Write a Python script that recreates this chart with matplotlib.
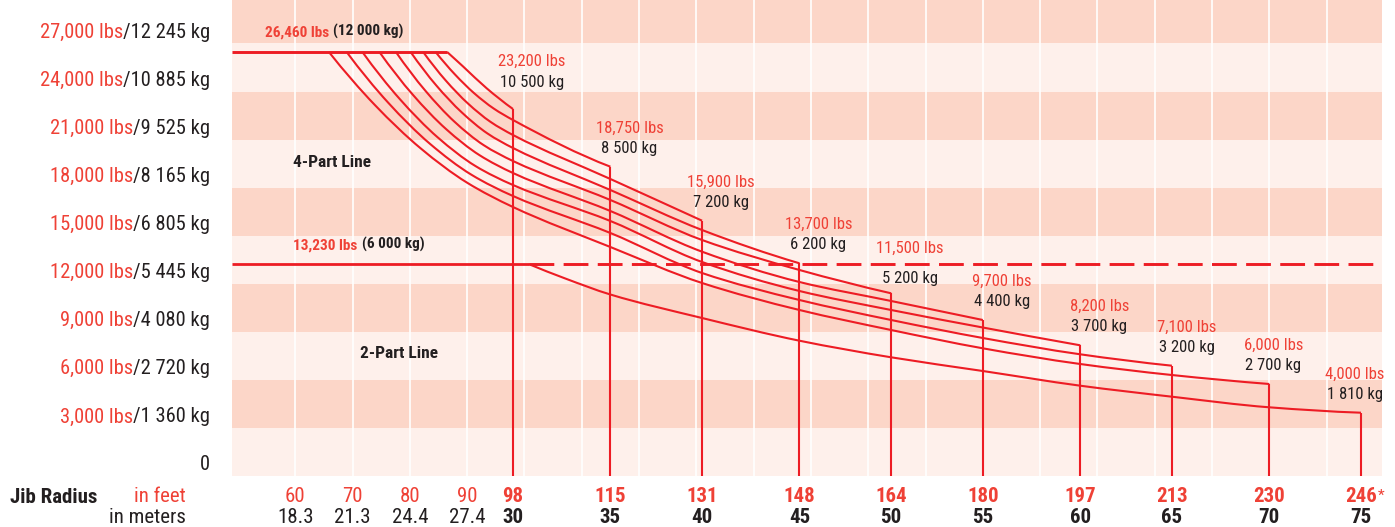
import matplotlib
matplotlib.use("Agg")
import matplotlib.pyplot as plt
from matplotlib import font_manager as fm
from matplotlib.path import Path
from matplotlib.patches import PathPatch
from matplotlib.transforms import blended_transform_factory as blend

# ---------------- data ----------------
radius_ft = [98, 115, 131, 148, 164, 180, 197, 213, 230, 246]
radius_ft_labels = ["98", "115", "131", "148", "164", "180", "197", "213", "230", "246"]
radius_m_labels = ["30", "35", "40", "45", "50", "55", "60", "65", "70", "75"]
minor_ft = [60, 70, 80, 90]
minor_ft_labels = ["60", "70", "80", "90"]
minor_m_labels = ["18.3", "21.3", "24.4", "27.4"]

end_lbs_labels = ["23,200 lbs", "18,750 lbs", "15,900 lbs", "13,700 lbs", "11,500 lbs",
                  "9,700 lbs", "8,200 lbs", "7,100 lbs", "6,000 lbs", "4,000 lbs"]
end_kg_labels = ["10 500 kg", "8 500 kg", "7 200 kg", "6 200 kg", "5 200 kg",
                 "4 400 kg", "3 700 kg", "3 200 kg", "2 700 kg", "1 810 kg"]

ytick_lbs = [0, 3000, 6000, 9000, 12000, 15000, 18000, 21000, 24000, 27000]
ytick_lbs_labels = ["0", "3,000 lbs", "6,000 lbs", "9,000 lbs", "12,000 lbs", "15,000 lbs",
                    "18,000 lbs", "21,000 lbs", "24,000 lbs", "27,000 lbs"]
ytick_kg_labels = ["", "/1 360 kg", "/2 720 kg", "/4 080 kg", "/5 445 kg", "/6 805 kg",
                   "/8 165 kg", "/9 525 kg", "/10 885 kg", "/12 245 kg"]

max_4part_lbs = 26460
max_4part_text = ("26,460 lbs", "(12 000 kg)")
max_2part_lbs = 13230
max_2part_text = ("13,230 lbs", "(6 000 kg)")

# 4-part line curves (jib radius in ft, capacity in lbs)
c98_ft = [86.53, 89.33, 93.41, 98]
c98_lbs = [26460, 25549, 24200, 22908]
c115_ft = [84.51, 87.88, 91.26, 94.63, 98, 115]
c115_lbs = [26460, 25062, 23882, 22939, 22222, 19307]
c131_ft = [82.34, 86.25, 90.18, 94.09, 98, 115, 131]
c131_lbs = [26460, 24693, 23239, 22103, 21285, 18539, 15936]
c148_ft = [80.15, 84.61, 89.08, 93.53, 98, 115, 131, 148]
c148_lbs = [26460, 24381, 22690, 21385, 20474, 17852, 15355, 13277]
c164_ft = [77.58, 82.69, 87.79, 92.90, 98, 115, 131, 148, 164]
c164_lbs = [26460, 24057, 22115, 20649, 19662, 17228, 14731, 12859, 11404]
c180_ft = [74.70, 80.53, 86.35, 92.17, 98, 115, 131, 148, 164, 180]
c180_lbs = [26460, 23795, 21647, 20024, 18913, 16541, 14001, 12109, 10924, 9738]
c197_ft = [71.73, 78.30, 84.87, 91.44, 98, 115, 131, 148, 164, 180, 197]
c197_lbs = [26460, 23507, 21135, 19350, 18164, 15917, 13358, 11548, 10362, 9269, 8158]
c213_ft = [68.98, 76.24, 83.49, 90.74, 98, 115, 131, 148, 164, 180, 197, 213]
c213_lbs = [26460, 23295, 20742, 18807, 17478, 15168, 12671, 10986, 9738, 8614, 7597, 6885]
c230_ft = [65.89, 73.91, 81.94, 89.97, 98, 115, 131, 148, 164, 180, 197, 213, 230]
c230_lbs = [26460, 23152, 20436, 18314, 16791, 14294, 12047, 10362, 9113, 7971, 6991, 6304, 5743]
# 2-part line curve
c246_ft = [100.74, 107.13, 115, 131, 148, 164, 180, 197, 213, 230, 246]
c246_lbs = [13230, 12328, 11329, 9862, 8445, 7409, 6554, 5637, 4950, 4288, 3951]

four_part_curves = [(c98_ft, c98_lbs), (c115_ft, c115_lbs), (c131_ft, c131_lbs),
                    (c148_ft, c148_lbs), (c164_ft, c164_lbs), (c180_ft, c180_lbs),
                    (c197_ft, c197_lbs), (c213_ft, c213_lbs), (c230_ft, c230_lbs)]
all_curves = four_part_curves + [(c246_ft, c246_lbs)]

# ---------------- fonts ----------------
def pick_font():
    entries = fm.fontManager.ttflist
    names = {f.name for f in entries}
    for cand in ["Roboto Condensed", "Open Sans Condensed", "Liberation Sans Narrow",
                 "Noto Sans Condensed"]:
        if cand in names:
            return cand, "normal"
    for fam in ["Roboto", "Open Sans", "Noto Sans", "DejaVu Sans", "Liberation Sans"]:
        for f in entries:
            if f.name == fam and str(f.stretch) in ("condensed", "semi-condensed",
                                                      "extra-condensed"):
                return fam, str(f.stretch)
    return "Liberation Sans", "normal"

FONT, STRETCH = pick_font()
plt.rcParams["font.family"] = [FONT, "DejaVu Sans"]
plt.rcParams["font.stretch"] = STRETCH

LINE = "#ED1C24"
RED_T = "#EF4136"
DARK = "#231F20"
BAND_DARK = "#FCD6C8"
BAND_LIGHT = "#FEF0EB"

W, H = 1395, 527
fig = plt.figure(figsize=(W / 100, H / 100), dpi=100)
ax = fig.add_axes([232 / W, 51 / H, 1150 / W, 476 / H])
ax.set_xlim(48.96, 249.67)
ax.set_ylim(0, 29712)
ax.set_axis_off()


def smooth_path(xs, ys):
    """Monotone cubic (Fritsch-Carlson) Bezier path through the read points."""
    n = len(xs)
    h = [xs[i + 1] - xs[i] for i in range(n - 1)]
    d = [(ys[i + 1] - ys[i]) / h[i] for i in range(n - 1)]
    m = [0.0] * n
    if n == 2:
        m = [d[0], d[0]]
    else:
        for i in range(1, n - 1):
            if d[i - 1] * d[i] <= 0:
                m[i] = 0.0
            else:
                w1 = 2 * h[i] + h[i - 1]
                w2 = h[i] + 2 * h[i - 1]
                m[i] = (w1 + w2) / (w1 / d[i - 1] + w2 / d[i])
        m0 = ((2 * h[0] + h[1]) * d[0] - h[0] * d[1]) / (h[0] + h[1])
        if m0 * d[0] <= 0:
            m0 = 0.0
        elif d[0] * d[1] <= 0 and abs(m0) > abs(3 * d[0]):
            m0 = 3 * d[0]
        m[0] = m0
        mn = ((2 * h[-1] + h[-2]) * d[-1] - h[-1] * d[-2]) / (h[-1] + h[-2])
        if mn * d[-1] <= 0:
            mn = 0.0
        elif d[-1] * d[-2] <= 0 and abs(mn) > abs(3 * d[-1]):
            mn = 3 * d[-1]
        m[-1] = mn
    verts = [(xs[0], ys[0])]
    codes = [Path.MOVETO]
    for i in range(n - 1):
        verts += [(xs[i] + h[i] / 3, ys[i] + m[i] * h[i] / 3),
                  (xs[i + 1] - h[i] / 3, ys[i + 1] - m[i + 1] * h[i] / 3),
                  (xs[i + 1], ys[i + 1])]
        codes += [Path.CURVE4] * 3
    return Path(verts, codes)


# bands
for i in range(10):
    lo = i * 3000
    ax.axhspan(lo, lo + 3000, color=BAND_LIGHT if i % 2 == 0 else BAND_DARK, lw=0, zorder=0)
for x in range(60, 250, 10):
    ax.axvline(x, color="white", lw=1.2, zorder=1)

# lines
ax.plot([ax.get_xlim()[0], c98_ft[0]], [max_4part_lbs] * 2, color=LINE, lw=2.1,
        solid_capstyle="butt", zorder=3)
for fx, fy in all_curves:
    ax.add_patch(PathPatch(smooth_path(fx, fy), fill=False, ec=LINE, lw=1.5,
                           joinstyle="round", zorder=3))
ax.vlines(radius_ft, 0, [c[1][-1] for c in all_curves], color=LINE, lw=1.5, zorder=3)
ax.plot([ax.get_xlim()[0], c246_ft[0]], [max_2part_lbs] * 2, color=LINE, lw=2.0,
        solid_capstyle="butt", zorder=3)
ax.plot([c246_ft[0], ax.get_xlim()[1]], [max_2part_lbs] * 2, color=LINE, lw=2.1,
        dashes=(8.5, 3.2), zorder=3)

PT = 0.72  # px -> pt
YFS = 14.8

# y labels
ytr = blend(ax.transAxes, ax.transData)
for v, lb, kg in zip(ytick_lbs, ytick_lbs_labels, ytick_kg_labels):
    if kg:
        t = ax.annotate(kg, xy=(-22 / 1150, v), xycoords=ytr, xytext=(0, 5.5 * PT),
                        textcoords="offset points", ha="right", va="baseline",
                        fontsize=YFS, color=DARK, annotation_clip=False)
        ax.annotate(lb, xy=(0, v), xycoords=(t, "data"), xytext=(0, 5.5 * PT),
                    textcoords="offset points", ha="right", va="baseline",
                    fontsize=YFS, color=RED_T, annotation_clip=False)
    else:
        ax.annotate(lb, xy=(-22 / 1150, v), xycoords=ytr, xytext=(0, 5.5 * PT),
                    textcoords="offset points", ha="right", va="baseline",
                    fontsize=YFS, color=DARK, annotation_clip=False)

# max capacity labels
def two_part_label(parts, yval, dx_px, dy_px):
    t = ax.annotate(parts[0], xy=(0, yval), xycoords=ytr, xytext=(dx_px * PT, dy_px * PT),
                    textcoords="offset points", ha="left", va="baseline", fontsize=11,
                    fontweight="bold", color=RED_T, annotation_clip=False, zorder=5)
    ax.annotate(parts[1], xy=(1, yval), xycoords=(t, "data"), xytext=(3, dy_px * PT),
                textcoords="offset points", ha="left", va="baseline", fontsize=11,
                fontweight="bold", color=DARK, annotation_clip=False, zorder=5)

two_part_label(max_4part_text, max_4part_lbs, 33, 16)
two_part_label(max_2part_text, max_2part_lbs, 61, 15)

ax.text((293 - 232) / 1150, (476 - 167) / 476, "4-Part Line", transform=ax.transAxes,
        fontsize=12.5, fontweight="bold", color=DARK, va="baseline", zorder=5)
ax.text((360 - 232) / 1150, (476 - 358) / 476, "2-Part Line", transform=ax.transAxes,
        fontsize=12.5, fontweight="bold", color=DARK, va="baseline", zorder=5)

# end-of-curve labels
dx_px = {213: 15, 230: 4, 246: -6}
dy_px = {98: (43, 22), 164: (40, 10)}
for r, (fx, fy), lb, kg in zip(radius_ft, all_curves, end_lbs_labels, end_kg_labels):
    dx = dx_px.get(r, 19)
    dr, dk = dy_px.get(r, (34, 14))
    ax.annotate(lb, xy=(r, fy[-1]), xytext=(dx * PT, dr * PT), textcoords="offset points",
                ha="center", va="baseline", fontsize=12, color=RED_T,
                annotation_clip=False, zorder=5)
    ax.annotate(kg, xy=(r, fy[-1]), xytext=(dx * PT, dk * PT), textcoords="offset points",
                ha="center", va="baseline", fontsize=12, color=DARK,
                annotation_clip=False, zorder=5)

# x labels
xtr = blend(ax.transData, fig.transFigure)
Y_FT = (H - 502) / H
Y_M = (H - 523) / H
XFS = 15
for f, fl, ml in zip(minor_ft, minor_ft_labels, minor_m_labels):
    ax.text(f, Y_FT, fl, transform=xtr, ha="center", va="baseline", fontsize=XFS, color=RED_T)
    ax.text(f, Y_M, ml, transform=xtr, ha="center", va="baseline", fontsize=XFS, color=DARK)
for r, fl, ml in zip(radius_ft, radius_ft_labels, radius_m_labels):
    t = ax.text(r, Y_FT, fl, transform=xtr, ha="center", va="baseline", fontsize=XFS,
                fontweight="bold", color=RED_T)
    ax.text(r, Y_M, ml, transform=xtr, ha="center", va="baseline", fontsize=XFS,
            fontweight="bold", color=DARK)
    if r == radius_ft[-1]:
        ax.annotate("*", xy=(1, 1), xycoords=t, xytext=(0.5, -1), textcoords="offset points",
                    ha="left", va="top", fontsize=11, color=RED_T, annotation_clip=False)

fig.text(10 / W, (H - 503) / H, "Jib Radius", fontsize=15, fontweight="bold", color=DARK,
         va="baseline")
fig.text(186 / W, Y_FT, "in feet", fontsize=XFS, color=RED_T, ha="right", va="baseline")
fig.text(186 / W, Y_M, "in meters", fontsize=XFS, color=DARK, ha="right", va="baseline")

fig.savefig("out.png", dpi=100)
